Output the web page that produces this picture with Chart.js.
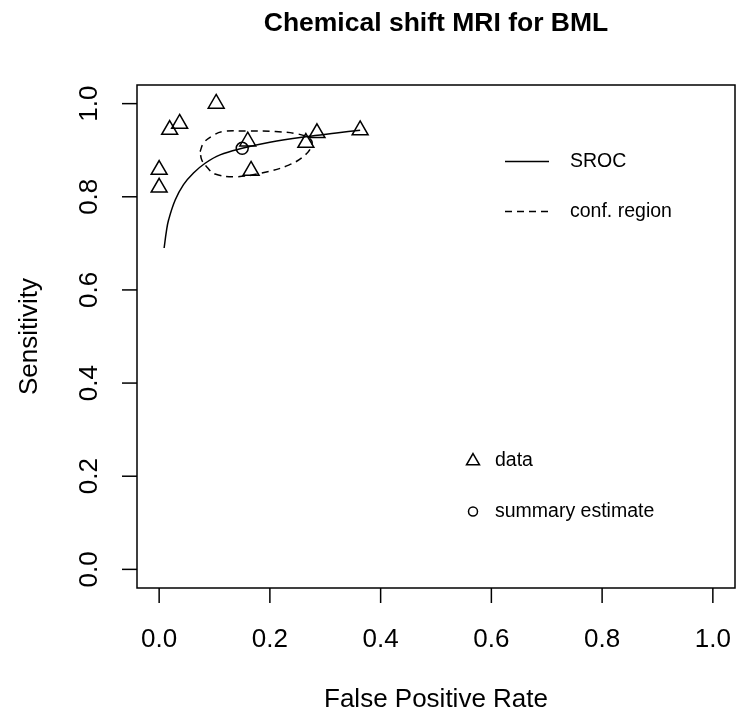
<!DOCTYPE html>
<html>
<head>
<meta charset="utf-8">
<script src="https://cdn.jsdelivr.net/npm/chart.js@4.4.1/dist/chart.umd.min.js"></script>
<style>
  html, body { margin: 0; padding: 0; background: #fff; }
</style>
</head>
<body>
<canvas id="srocChart" width="736" height="714"></canvas>
<script>
// study points (false positive rate / sensitivity)
const studyFpr = [0.103, 0.037, 0.019, 0.000, 0.000, 0.160, 0.166, 0.285, 0.265, 0.363];
const studySens = [1.000, 0.957, 0.944, 0.858, 0.820, 0.919, 0.856, 0.937, 0.916, 0.943];

const summaryFpr = [0.150];
const summarySens = [0.904];

// SROC curve
const srocFpr = [0.009, 0.013, 0.017, 0.029, 0.044, 0.062, 0.083, 0.110, 0.150, 0.200, 0.265, 0.320, 0.363];
const srocSens = [0.690, 0.725, 0.750, 0.793, 0.826, 0.851, 0.872, 0.890, 0.904, 0.917, 0.929, 0.937, 0.943];

// confidence region outline
const regionFpr = [0.074, 0.080, 0.095, 0.115, 0.160, 0.210, 0.250, 0.272, 0.276, 0.264, 0.234, 0.185, 0.137, 0.101, 0.086, 0.077, 0.074];
const regionSens = [0.897, 0.915, 0.930, 0.940, 0.941, 0.940, 0.935, 0.925, 0.912, 0.890, 0.868, 0.851, 0.843, 0.849, 0.864, 0.879, 0.897];

const tickValues = [0, 0.2, 0.4, 0.6, 0.8, 1.0];
const tickLabels = ["0.0", "0.2", "0.4", "0.6", "0.8", "1.0"];

const FONT = '"Liberation Sans", Arial, Helvetica, sans-serif';

function toPoints(xs, ys) {
  return xs.map((x, i) => ({ x: x, y: ys[i] }));
}

function drawTriangle(ctx, x, y, r) {
  ctx.beginPath();
  ctx.moveTo(x, y - r);
  ctx.lineTo(x + r * Math.sqrt(3) / 2, y + r / 2);
  ctx.lineTo(x - r * Math.sqrt(3) / 2, y + r / 2);
  ctx.closePath();
  ctx.stroke();
}

const rAxesPlugin = {
  id: "rAxes",
  afterDraw(chart) {
    const ctx = chart.ctx;
    const area = chart.chartArea;
    const xs = chart.scales.x;
    const ys = chart.scales.y;

    ctx.save();
    ctx.strokeStyle = "#000";
    ctx.fillStyle = "#000";
    ctx.lineWidth = 1.5;

    // box
    ctx.strokeRect(area.left, area.top, area.right - area.left, area.bottom - area.top);

    // x axis ticks
    ctx.font = "26px " + FONT;
    ctx.textAlign = "center";
    ctx.textBaseline = "alphabetic";
    tickValues.forEach((v, i) => {
      const px = xs.getPixelForValue(v);
      ctx.beginPath();
      ctx.moveTo(px, area.bottom);
      ctx.lineTo(px, area.bottom + 15);
      ctx.stroke();
      ctx.fillText(tickLabels[i], px, 647);
    });

    // y axis ticks, labels turned like R
    tickValues.forEach((v, i) => {
      const py = ys.getPixelForValue(v);
      ctx.beginPath();
      ctx.moveTo(area.left - 15, py);
      ctx.lineTo(area.left, py);
      ctx.stroke();
      ctx.save();
      ctx.translate(97, py);
      ctx.rotate(-Math.PI / 2);
      ctx.fillText(tickLabels[i], 0, 0);
      ctx.restore();
    });

    // axis titles
    const midX = (area.left + area.right) / 2;
    const midY = (area.top + area.bottom) / 2;
    ctx.fillText("False Positive Rate", midX, 707);
    ctx.save();
    ctx.translate(37, midY);
    ctx.rotate(-Math.PI / 2);
    ctx.fillText("Sensitivity", 0, 0);
    ctx.restore();

    // main title
    ctx.font = "bold 26.5px " + FONT;
    ctx.fillText("Chemical shift MRI for BML", midX, 31);

    // legends
    ctx.font = "19.5px " + FONT;
    ctx.textAlign = "left";
    ctx.textBaseline = "middle";
    ctx.beginPath();
    ctx.moveTo(505, 161.5);
    ctx.lineTo(549, 161.5);
    ctx.stroke();
    ctx.fillText("SROC", 570, 161.5);
    ctx.setLineDash([7, 5]);
    ctx.beginPath();
    ctx.moveTo(505, 211.5);
    ctx.lineTo(549, 211.5);
    ctx.stroke();
    ctx.setLineDash([]);
    ctx.fillText("conf. region", 570, 211.5);

    drawTriangle(ctx, 473, 461, 7.5);
    ctx.fillText("data", 495, 461);
    ctx.beginPath();
    ctx.arc(473, 511.5, 4.5, 0, Math.PI * 2);
    ctx.stroke();
    ctx.fillText("summary estimate", 495, 511.5);

    ctx.restore();
  }
};

const ctx = document.getElementById("srocChart");

new Chart(ctx, {
  type: "scatter",
  data: {
    datasets: [
      {
        label: "data",
        data: toPoints(studyFpr, studySens),
        pointStyle: "triangle",
        pointRadius: 9.2,
        pointBorderWidth: 1.5,
        borderColor: "#000",
        backgroundColor: "rgba(0,0,0,0)",
      },
      {
        label: "summary estimate",
        data: toPoints(summaryFpr, summarySens),
        pointStyle: "circle",
        pointRadius: 6,
        pointBorderWidth: 1.5,
        borderColor: "#000",
        backgroundColor: "rgba(0,0,0,0)",
      },
      {
        label: "SROC",
        data: toPoints(srocFpr, srocSens),
        showLine: true,
        tension: 0.4,
        pointRadius: 0,
        borderWidth: 1.5,
        borderColor: "#000",
        fill: false,
      },
      {
        label: "conf. region",
        data: toPoints(regionFpr, regionSens),
        showLine: true,
        tension: 0.4,
        pointRadius: 0,
        borderWidth: 1.5,
        borderDash: [7, 5],
        borderColor: "#000",
        fill: false,
      },
    ],
  },
  options: {
    responsive: false,
    devicePixelRatio: 1,
    animation: false,
    layout: {
      autoPadding: false,
      padding: { left: 137, right: 1, top: 85, bottom: 126 },
    },
    plugins: {
      legend: { display: false },
      title: { display: false },
      tooltip: { enabled: false },
    },
    scales: {
      x: { type: "linear", min: -0.04, max: 1.04, display: false },
      y: { type: "linear", min: -0.04, max: 1.04, display: false },
    },
  },
  plugins: [rAxesPlugin],
});
</script>
</body>
</html>
